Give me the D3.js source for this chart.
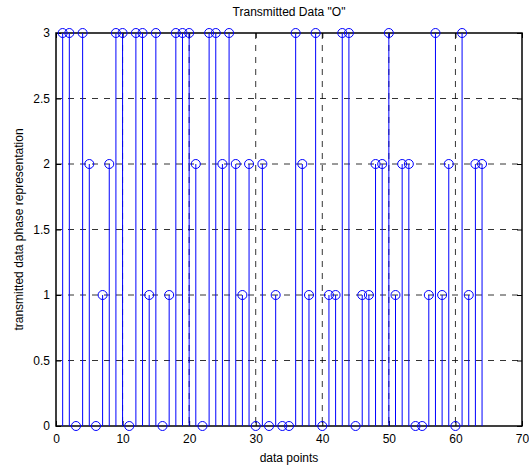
<!DOCTYPE html>
<html>
<head>
<meta charset="utf-8">
<script src="https://cdn.jsdelivr.net/npm/d3@7"></script>
<style>
  body { margin: 0; background: #fff; }
  text { font-family: Arial, "Liberation Sans", sans-serif; }
</style>
</head>
<body>
<div id="chart"></div>
<script>
// transmitted symbol phase per data point (1..64)
const dataPoints = d3.range(1, 65);
const phaseValues = [3,3,0,3,2,0,1,2,3,3,0,3,3,1,3,0,1,3,3,3,2,0,3,3,2,3,2,1,2,0,2,0,
                     1,0,0,3,2,1,3,0,1,1,3,3,0,1,1,2,2,3,1,2,2,0,0,1,3,1,2,0,3,1,2,2];
const xTicks = [0,10,20,30,40,50,60,70];
const yTicks = [0,0.5,1,1.5,2,2.5,3];

const W = 529, H = 468;
const margin = {top: 33, right: 7, bottom: 42, left: 56};
const width = W - margin.left - margin.right;
const height = H - margin.top - margin.bottom;

const svg = d3.select("#chart").append("svg")
    .attr("width", W)
    .attr("height", H);

const g = svg.append("g")
    .attr("transform", "translate(" + margin.left + "," + margin.top + ")");

const x = d3.scaleLinear().domain([0, 70]).range([0, width]);
const y = d3.scaleLinear().domain([0, 3]).range([height, 0]);

// grid
g.append("g").selectAll("line")
    .data(xTicks.slice(1, -1))
    .enter().append("line")
    .attr("x1", d => x(d)).attr("x2", d => x(d))
    .attr("y1", 0).attr("y2", height)
    .attr("stroke", "#000").attr("stroke-width", 0.8)
    .attr("stroke-dasharray", "6,6");

g.append("g").selectAll("line")
    .data(yTicks.slice(1, -1))
    .enter().append("line")
    .attr("x1", 0).attr("x2", width)
    .attr("y1", d => y(d)).attr("y2", d => y(d))
    .attr("stroke", "#000").attr("stroke-width", 0.8)
    .attr("stroke-dasharray", "6,6");

// axes, ticks inward
g.append("g")
    .attr("transform", "translate(0," + height + ")")
    .call(d3.axisBottom(x).tickValues(xTicks).tickSizeInner(-5).tickSizeOuter(0).tickPadding(8));
g.append("g")
    .call(d3.axisLeft(y).tickValues(yTicks).tickFormat(d3.format("")).tickSizeInner(-5).tickSizeOuter(0).tickPadding(6));
g.append("g")
    .call(d3.axisTop(x).tickValues(xTicks).tickSizeInner(-5).tickSizeOuter(0).tickFormat(""));
g.append("g")
    .attr("transform", "translate(" + width + ",0)")
    .call(d3.axisRight(y).tickValues(yTicks).tickSizeInner(-5).tickSizeOuter(0).tickFormat(""));

g.selectAll(".domain").remove();
g.selectAll(".tick line").attr("stroke", "#000");
g.selectAll(".tick text").attr("font-size", 12).attr("fill", "#000");

g.append("rect")
    .attr("width", width).attr("height", height)
    .attr("fill", "none").attr("stroke", "#000").attr("stroke-width", 1.5);

// stems
const pts = dataPoints.map((d, i) => ({n: d, v: phaseValues[i]}));

g.append("g").selectAll("line")
    .data(pts)
    .enter().append("line")
    .attr("x1", d => x(d.n)).attr("x2", d => x(d.n))
    .attr("y1", y(0)).attr("y2", d => y(d.v))
    .attr("stroke", "#0000ff").attr("stroke-width", 1);

g.append("g").selectAll("circle")
    .data(pts)
    .enter().append("circle")
    .attr("cx", d => x(d.n))
    .attr("cy", d => y(d.v))
    .attr("r", 4.5)
    .attr("fill", "none")
    .attr("stroke", "#0000ff").attr("stroke-width", 1);

// labels
svg.append("text")
    .attr("x", margin.left + width / 2).attr("y", 16)
    .attr("text-anchor", "middle").attr("font-size", 12)
    .text('Transmitted Data "O"');

svg.append("text")
    .attr("x", margin.left + width / 2).attr("y", 462)
    .attr("text-anchor", "middle").attr("font-size", 12)
    .text("data points");

svg.append("text")
    .attr("transform", "translate(23," + (margin.top + height / 2) + ") rotate(-90)")
    .attr("text-anchor", "middle").attr("font-size", 12)
    .text("transmitted data phase representation");
</script>
</body>
</html>
